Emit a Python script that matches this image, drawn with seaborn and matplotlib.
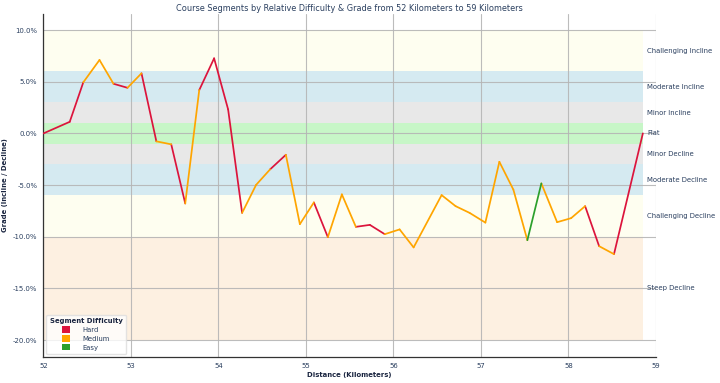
import matplotlib
matplotlib.use("Agg")
import matplotlib.pyplot as plt
from matplotlib.patches import Patch
from matplotlib.ticker import FuncFormatter
import seaborn as sns
import pandas as pd

# ---- data ----
distance = [52.00, 52.30, 52.455, 52.64, 52.80, 52.96, 53.12, 53.29, 53.46, 53.62,
            53.78, 53.95, 54.11, 54.27, 54.43, 54.59, 54.77, 54.93, 55.09, 55.25,
            55.41, 55.57, 55.73, 55.90, 56.07, 56.23, 56.55, 56.71, 56.87, 57.05,
            57.21, 57.37, 57.53, 57.69, 57.87, 58.03, 58.19, 58.35, 58.52, 58.85]
grade = [0.00, 1.12, 4.94, 7.10, 4.80, 4.41, 5.81, -0.77, -1.06, -6.78,
         4.19, 7.26, 2.32, -7.69, -4.98, -3.48, -2.07, -8.78, -6.68, -10.04,
         -5.90, -9.04, -8.85, -9.75, -9.29, -11.03, -5.97, -7.04, -7.69, -8.63,
         -2.75, -5.44, -10.33, -4.84, -8.59, -8.20, -7.04, -10.91, -11.68, 0.00]
# difficulty of the segment ending at each point (after the first)
segment_difficulty = ["Hard", "Hard", "Medium", "Medium", "Hard", "Medium", "Hard", "Medium", "Hard",
                      "Medium", "Hard", "Hard", "Hard", "Medium", "Medium", "Hard", "Medium", "Medium",
                      "Hard", "Medium", "Medium", "Hard", "Hard", "Medium", "Medium", "Medium", "Medium",
                      "Medium", "Medium", "Medium", "Medium", "Medium", "Easy", "Medium", "Medium",
                      "Medium", "Hard", "Medium", "Hard"]
difficulty_levels = ["Hard", "Medium", "Easy"]
difficulty_colors = ["#DC143C", "#FFA500", "#2CA02C"]

band_names = ["Challenging Incline", "Moderate Incline", "Minor Incline", "Flat",
              "Minor Decline", "Moderate Decline", "Challenging Decline", "Steep Decline"]
band_low = [6, 3, 1, -1, -3, -6, -10, -20]
band_high = [10, 6, 3, 1, -1, -3, -6, -10]
band_colors = ["#FEFEF0", "#D5EAF1", "#E8E8E8", "#C7F6C7", "#E8E8E8", "#D5EAF1", "#FEFEF0", "#FDF0E1"]

title = "Course Segments by Relative Difficulty & Grade from 52 Kilometers to 59 Kilometers"
x_ticks = [52, 53, 54, 55, 56, 57, 58, 59]
y_ticks = [-20, -15, -10, -5, 0, 5, 10]

# ---- build long table: one unit per segment ----
rows = []
for i, d in enumerate(segment_difficulty):
    rows.append({"seg": i, "x": distance[i], "y": grade[i], "difficulty": d})
    rows.append({"seg": i, "x": distance[i + 1], "y": grade[i + 1], "difficulty": d})
df = pd.DataFrame(rows)

sns.set_style("white")
plt.rcParams["font.family"] = ["DejaVu Sans"]
txt = "#2a3f5f"
fs = 4.95

fig = plt.figure(figsize=(7.2, 3.83), dpi=100)
ax = fig.add_axes([0.0604, 0.0687, 0.8507, 0.8948])

x0, x1 = distance[0], distance[-1]
for name, lo, hi, col in zip(band_names, band_low, band_high, band_colors):
    ax.fill_between([x0, x1], lo, hi, color=col, lw=0, zorder=0.5)
    ax.text(x1 + 0.05, (lo + hi) / 2, name, ha="left", va="center",
            fontsize=fs, color=txt, zorder=5)

sns.lineplot(data=df, x="x", y="y", hue="difficulty", units="seg", estimator=None,
             hue_order=difficulty_levels, palette=dict(zip(difficulty_levels, difficulty_colors)),
             linewidth=1.25, legend=False, ax=ax, zorder=3, sort=False)

ax.set_xlim(52, 59)
ax.set_ylim(-21.6, 11.55)
ax.set_xticks(x_ticks)
ax.set_yticks(y_ticks)
ax.yaxis.set_major_formatter(FuncFormatter(lambda v, p: f"{v:.1f}%"))
ax.set_axisbelow("line")
ax.grid(True, color="#b5b5b5", linewidth=0.8, alpha=0.9)
ax.tick_params(axis="both", labelsize=fs, colors=txt, length=2.5, width=0.6, pad=2)
ax.tick_params(axis="both", color="#333333")

for s in ["top", "right"]:
    ax.spines[s].set_visible(False)
for s in ["left", "bottom"]:
    ax.spines[s].set_color("#333333")
    ax.spines[s].set_linewidth(0.9)

ax.set_title(title, fontsize=5.9, color=txt, pad=2.5)
ax.set_xlabel("Distance (Kilometers)", fontsize=fs, fontweight="bold", color="#1a2540")
ax.set_ylabel("Grade (Incline / Decline)", fontsize=fs, fontweight="bold", color="#1a2540")
ax.xaxis.set_label_coords(0.5, -0.045)
ax.yaxis.set_label_coords(-0.058, 0.5)

handles = [Patch(facecolor=c, edgecolor="none", label=l) for l, c in zip(difficulty_levels, difficulty_colors)]
leg = ax.legend(handles=handles, title="Segment Difficulty", loc="lower left", fontsize=fs,
                title_fontsize=fs, frameon=True, borderaxespad=0.4, handlelength=1.1,
                handleheight=1.1, handletextpad=1.8, labelspacing=0.3, borderpad=0.5)
leg.get_title().set_fontweight("bold")
leg.get_title().set_color("#1a2540")
for t in leg.get_texts():
    t.set_color(txt)
leg.get_frame().set_facecolor("white")
leg.get_frame().set_alpha(0.8)
leg.get_frame().set_edgecolor("#dddddd")
leg.set_zorder(6)

fig.savefig("out.png", dpi=100)
